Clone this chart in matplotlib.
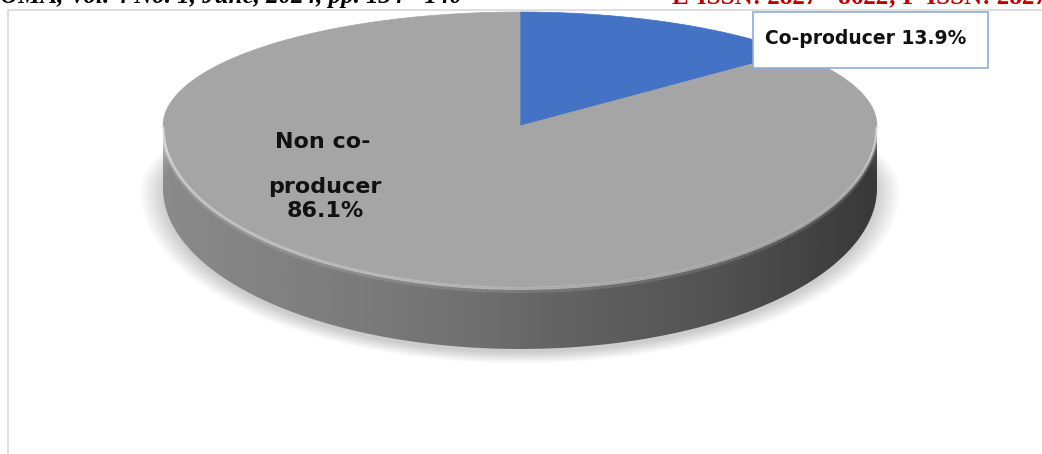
import numpy as np
import matplotlib.pyplot as plt
from matplotlib.patches import Polygon, Rectangle

# data
categories = ["Co-producer", "Non co-producer"]
values = [13.9, 86.1]
colors = ["#4472C4", "#A5A5A5"]

header_left = "IJOMA, Vol. 4 No. 1, June, 2024, pp. 134 - 140"
header_right = "E-ISSN: 2827 - 8622; P-ISSN: 2827 - 8623"

# pie geometry in pixel space
cx, cy = 520, 126
rx, ry_top, ry_bot = 357, 114, 161
depth = 62


def proj(t, dy=0.0):
    t = np.asarray(t)
    ry = np.where(np.cos(t) >= 0, ry_top, ry_bot)
    return cx + rx * np.sin(t), cy - ry * np.cos(t) + dy


fig = plt.figure(figsize=(10.42, 4.54), dpi=100)
ax = fig.add_axes([0, 0, 1, 1])
ax.set_xlim(0, 1042)
ax.set_ylim(454, 0)
ax.axis("off")

# page frame of the chart
ax.plot([8, 8, 1042], [454, 10, 10], color="#d9d9d9", lw=1.2)

# header text, clipped at the top of the page
ax.text(-22, 3, header_left, fontsize=18, fontstyle="italic", fontweight="bold",
        family="Liberation Serif", color="black", va="baseline")
ax.text(672, 3, header_right, fontsize=18, fontweight="bold",
        family="Liberation Serif", color="#c00000", va="baseline")

# soft shadow under the pie
for k in range(10):
    s = 1 + 0.007 * k
    tt = np.linspace(0, 2 * np.pi, 200)
    x, y = proj(tt, depth + 4)
    ax.fill(cx + (x - cx) * s, cy + depth + 2 + (y - cy - depth - 2) * s,
            color="black", alpha=0.02, lw=0)

# side wall (front half)
tf = np.linspace(np.pi / 2, 3 * np.pi / 2, 200)
xs, ys = proj(tf)
xb, yb = proj(tf[::-1], depth)
side = Polygon(np.column_stack([np.r_[xs, xb], np.r_[ys, yb]]), closed=True,
               facecolor="none", edgecolor="none")
ax.add_patch(side)
grad = np.linspace(0, 1, 256)
shade = np.interp(grad, [0, 0.45, 1], [0.68, 0.55, 0.30])
img = np.tile(shade, (2, 1))
im = ax.imshow(img, cmap="gray", vmin=0, vmax=1, aspect="auto",
               extent=[cx - rx, cx + rx, cy + ry_bot + depth, cy - 10],
               interpolation="bicubic")
im.set_clip_path(side)

# top face wedges
start = 0.0
total = sum(values)
for v, c in zip(values, colors):
    span = 2 * np.pi * v / total
    tt = np.linspace(start, start + span, 200)
    x, y = proj(tt)
    ax.add_patch(Polygon(np.column_stack([np.r_[cx, x], np.r_[cy, y]]),
                         closed=True, facecolor=c, edgecolor=c, lw=0.5))
    start += span

# bevel highlight on rim
ax.plot(xs, ys + 1.5, color="white", alpha=0.45, lw=2)
ax.plot(xs, ys + 4, color="white", alpha=0.12, lw=3)

# labels
ax.add_patch(Rectangle((753, 12), 235, 56, facecolor="white",
                       edgecolor="#8faadc", lw=1.2))
ax.text(866, 38, f"{categories[0]} {values[0]}%", fontsize=13.5,
        fontweight="bold", family="DejaVu Sans", ha="center", va="center",
        color="#111111")
ax.text(323, 142, "Non co-", fontsize=16, fontweight="bold",
        family="DejaVu Sans", ha="center", va="center", color="#111111")
ax.text(325, 199, f"producer\n{values[1]}%", fontsize=16, fontweight="bold",
        family="DejaVu Sans", ha="center", va="center", color="#111111",
        linespacing=1.25)

fig.savefig("out.png", dpi=100)
